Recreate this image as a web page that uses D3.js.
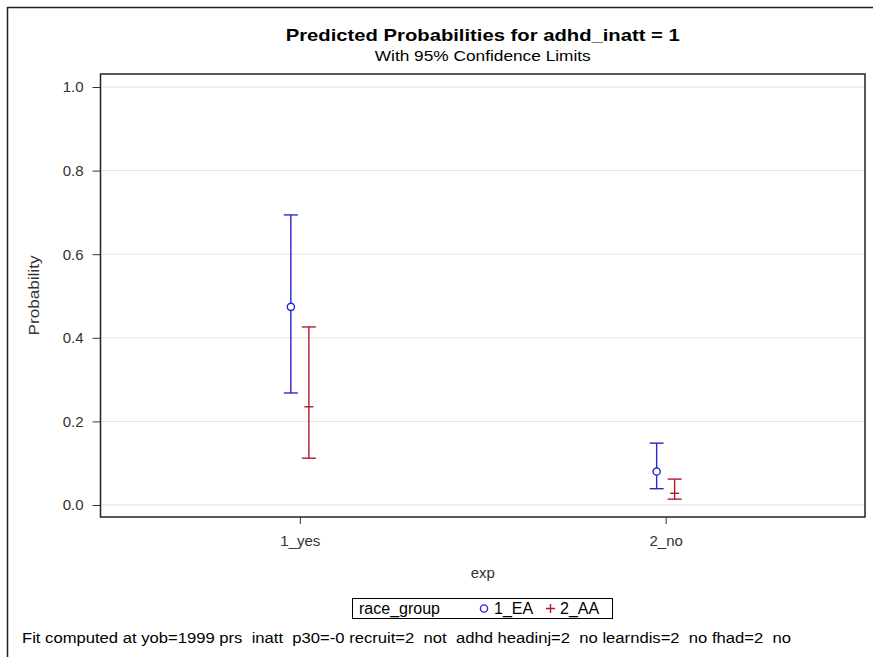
<!DOCTYPE html>
<html><head><meta charset="utf-8">
<script src="https://cdn.jsdelivr.net/npm/d3@7"></script>
<style>
body{margin:0;background:#fff;}
svg{display:block;font-family:"Liberation Sans",Arial,sans-serif;}
</style></head>
<body><svg id="c" width="873" height="657"></svg>
<script>
const categories = ["1_yes", "2_no"];
const groups = ["1_EA", "2_AA"];
const estimate = { "1_EA": [0.474, 0.080], "2_AA": [0.235, 0.028] };
const lower    = { "1_EA": [0.268, 0.039], "2_AA": [0.112, 0.014] };
const upper    = { "1_EA": [0.694, 0.148], "2_AA": [0.426, 0.062] };
const yTicks = [0.0, 0.2, 0.4, 0.6, 0.8, 1.0];
const colors = { "1_EA": "#2A25D9", "2_AA": "#B2182B" };

const svg = d3.select("#c");
const L = 100.5, R = 865, T = 74, B = 517;

// outer border
svg.append("line").attr("x1",7).attr("x2",873).attr("y1",7.5).attr("y2",7.5).attr("stroke","#222").attr("stroke-width",1.5);
svg.append("line").attr("x1",7.5).attr("x2",7.5).attr("y1",7).attr("y2",657).attr("stroke","#222").attr("stroke-width",1.5);

const x = d3.scalePoint().domain(categories).range([L, R]).padding(0.545);
const y = d3.scaleLinear().domain([0, 1]).range([505, 87]);
const offset = d3.scalePoint().domain(groups).range([-9, 9]);

// grid
svg.append("g").selectAll("line").data(yTicks).join("line")
  .attr("x1", L).attr("x2", R).attr("y1", d => y(d)).attr("y2", d => y(d))
  .attr("stroke", "#e4e4e4").attr("stroke-width", 1);

// axes
const yAxis = d3.axisLeft(y).tickValues(yTicks).tickFormat(d3.format(".1f")).tickSize(8).tickPadding(9);
const gy = svg.append("g").attr("transform", `translate(${L},0)`).call(yAxis);
gy.select(".domain").remove();
gy.selectAll("line").attr("stroke", "#333");
gy.selectAll("text").attr("font-size", 15).attr("fill", "#333").attr("font-family", "Liberation Sans, Arial");

const xAxis = d3.axisBottom(x).tickSize(7).tickPadding(11);
const gx = svg.append("g").attr("transform", `translate(0,${B})`).call(xAxis);
gx.select(".domain").remove();
gx.selectAll("line").attr("stroke", "#333");
gx.selectAll("text").attr("font-size", 15).attr("fill", "#333").attr("font-family", "Liberation Sans, Arial");

// frame
svg.append("rect").attr("x", L).attr("y", T).attr("width", R - L).attr("height", B - T)
  .attr("fill", "none").attr("stroke", "#222").attr("stroke-width", 1.5);

// error bars
const rows = [];
groups.forEach(g => categories.forEach((c, i) => rows.push({ g, c, est: estimate[g][i], lo: lower[g][i], hi: upper[g][i] })));
const eb = svg.append("g").selectAll("g").data(rows).join("g")
  .attr("stroke", d => colors[d.g]).attr("stroke-width", 1.4).attr("fill", "none");
const cx = d => x(d.c) + offset(d.g);
eb.append("line").attr("x1", cx).attr("x2", cx).attr("y1", d => y(d.lo)).attr("y2", d => y(d.hi));
eb.append("line").attr("x1", d => cx(d) - 7).attr("x2", d => cx(d) + 7).attr("y1", d => y(d.lo)).attr("y2", d => y(d.lo));
eb.append("line").attr("x1", d => cx(d) - 7).attr("x2", d => cx(d) + 7).attr("y1", d => y(d.hi)).attr("y2", d => y(d.hi));
eb.filter(d => d.g === "1_EA").append("circle").attr("cx", cx).attr("cy", d => y(d.est)).attr("r", 3.6).attr("fill", "#fff");
eb.filter(d => d.g === "2_AA").append("line").attr("x1", d => cx(d) - 4.5).attr("x2", d => cx(d) + 4.5).attr("y1", d => y(d.est)).attr("y2", d => y(d.est));

// titles
const cxp = (L + R) / 2;
svg.append("text").attr("x", cxp).attr("y", 41).attr("text-anchor", "middle")
  .attr("font-size", 17).attr("font-weight", "bold").attr("fill", "#000")
  .attr("textLength", 394).attr("lengthAdjust", "spacingAndGlyphs")
  .text("Predicted Probabilities for adhd_inatt = 1");
svg.append("text").attr("x", cxp).attr("y", 61).attr("text-anchor", "middle")
  .attr("font-size", 14).attr("fill", "#000")
  .attr("textLength", 216).attr("lengthAdjust", "spacingAndGlyphs")
  .text("With 95% Confidence Limits");

// axis labels
svg.append("text").attr("transform", `translate(39,${(T + B) / 2}) rotate(-90)`).attr("text-anchor", "middle")
  .attr("font-size", 15).attr("fill", "#333")
  .attr("textLength", 80).attr("lengthAdjust", "spacingAndGlyphs").text("Probability");
svg.append("text").attr("x", cxp).attr("y", 578).attr("text-anchor", "middle")
  .attr("font-size", 15).attr("fill", "#333").text("exp");

// legend
const lg = svg.append("g");
lg.append("rect").attr("x", 352.5).attr("y", 598.5).attr("width", 260).attr("height", 20)
  .attr("fill", "#fff").attr("stroke", "#000").attr("stroke-width", 1);
lg.append("text").attr("x", 359).attr("y", 614).attr("font-size", 16).attr("fill", "#000").text("race_group");
lg.append("circle").attr("cx", 484).attr("cy", 608.5).attr("r", 3.6).attr("fill", "none").attr("stroke", colors["1_EA"]).attr("stroke-width", 1.4);
lg.append("text").attr("x", 494).attr("y", 614).attr("font-size", 16).attr("fill", "#000").text("1_EA");
lg.append("path").attr("d", "M546,608.5h9M550.5,604v9").attr("stroke", colors["2_AA"]).attr("stroke-width", 1.4);
lg.append("text").attr("x", 560).attr("y", 614).attr("font-size", 16).attr("fill", "#000").text("2_AA");

// footnote
svg.append("text").attr("x", 22).attr("y", 643).attr("font-size", 14).attr("fill", "#000")
  .attr("xml:space", "preserve").style("white-space", "pre")
  .attr("textLength", 769).attr("lengthAdjust", "spacingAndGlyphs")
  .text("Fit computed at yob=1999 prs  inatt  p30=-0 recruit=2  not  adhd headinj=2  no learndis=2  no fhad=2  no");
</script></body></html>
